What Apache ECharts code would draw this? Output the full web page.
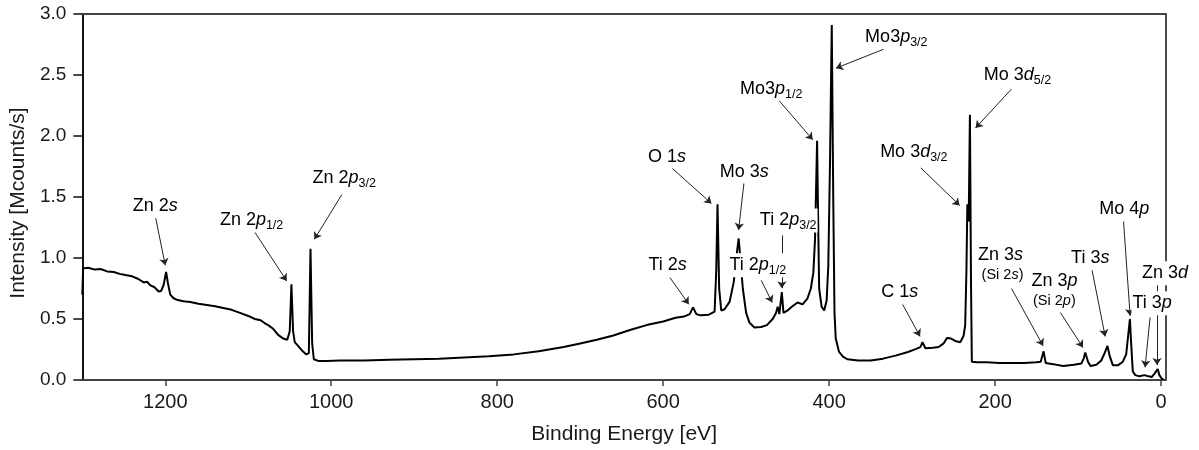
<!DOCTYPE html>
<html>
<head>
<meta charset="utf-8">
<script src="https://cdn.jsdelivr.net/npm/echarts@6/dist/echarts.min.js"></script>
<style>html,body{margin:0;padding:0;background:#fff}#c{width:1199px;height:450px}</style>
</head>
<body>
<div id="c"></div>
<script>
// Binding energy (eV) and intensity (Mcounts/s)
var energy = [1300,1299,1293,1285,1278,1270,1262,1255,1248,1240,1233,1226,1222,1218,1213,1208,1205,1202,1199,1197,1194,1190,1185,1178,1170,1160,1150,1140,1130,1120,1110,1100,1092,1085,1080,1076,1070,1064,1058,1053,1050,1048,1046,1044,1040,1035,1030,1027,1025,1023,1021,1015,1005,
990,960,930,900,870,840,810,780,750,720,700,680,660,640,620,600,585,575,568,564,560,555,545,538,536,534.5,532.5,530,526,520,515,511,509,507,504,500,496,490,482,475,468,464,462,460,457,455,450,445,438,432,426,422,419,417,414.5,413,412,409,406,403,401,399,396.8,395,393.5,392,388,383,378,365,350,335,320,305,295,290,287.5,284,275,268,262,258,253,248,242,238,236,234.5,233.4,231.8,230.3,229,228,222,210,195,180,165,150,145,141.5,139,130,118,105,96,93,91.3,88,85,78,72,68,64.5,62,58,52,46,42,37.5,36,34,31,26,20,18,15,11,8,4,2,-1,-3];
var intensity = [0.70,0.915,0.92,0.905,0.91,0.89,0.885,0.87,0.86,0.85,0.83,0.80,0.805,0.775,0.76,0.725,0.73,0.78,0.885,0.80,0.70,0.67,0.655,0.645,0.64,0.625,0.615,0.605,0.59,0.575,0.55,0.525,0.50,0.49,0.465,0.45,0.42,0.37,0.34,0.33,0.40,0.785,0.40,0.31,0.28,0.24,0.21,0.22,1.075,0.30,0.17,0.155,0.155,
0.16,0.16,0.165,0.17,0.175,0.185,0.195,0.21,0.235,0.27,0.30,0.33,0.365,0.41,0.45,0.48,0.51,0.52,0.54,0.595,0.54,0.53,0.535,0.56,0.90,1.44,0.75,0.57,0.58,0.64,0.80,1.05,1.16,1.0,0.75,0.55,0.47,0.43,0.435,0.45,0.50,0.55,0.60,0.54,0.72,0.55,0.57,0.60,0.635,0.62,0.67,0.75,0.88,1.15,1.96,1.2,0.75,0.60,0.57,0.65,0.93,1.75,2.91,1.48,0.55,0.34,0.23,0.19,0.17,0.16,0.16,0.175,0.20,0.23,0.255,0.27,0.31,0.26,0.265,0.27,0.30,0.345,0.34,0.32,0.31,0.36,0.45,0.9,1.44,1.3,2.175,0.8,0.15,0.145,0.145,0.14,0.14,0.14,0.145,0.15,0.235,0.14,0.13,0.115,0.125,0.135,0.18,0.225,0.15,0.115,0.125,0.16,0.22,0.28,0.20,0.12,0.12,0.15,0.21,0.50,0.30,0.07,0.04,0.03,0.04,0.05,0.03,0.025,0.05,0.09,0.04,0.01,0.005];

// tick labels
var xTicks = [0,200,400,600,800,1000,1200];
var yTicks = [0,0.5,1.0,1.5,2.0,2.5,3.0];

// peak annotations: text and anchor in data coordinates
var annText = [
  'Zn 2{i|s}','Zn 2{i|p}{s|1/2}','Zn 2{i|p}{s|3/2}','Ti 2{i|s}','O 1{i|s}','Mo 3{i|s}',
  'Ti 2{i|p}{s|1/2}','Ti 2{i|p}{s|3/2}','Mo3{i|p}{s|1/2}','Mo3{i|p}{s|3/2}','Mo 3{i|d}{s|5/2}','Mo 3{i|d}{s|3/2}',
  'C 1{i|s}','Zn 3{i|s}','{sm|(Si 2}{smi|s}{sm|)}','Zn 3{i|p}','{sm|(Si 2}{smi|p}{sm|)}','Ti 3{i|s}','Mo 4{i|p}','Zn 3{i|d}','Ti 3{i|p}'];
var annE = [1212,1096,984.4,594.7,595.5,502.2,486.0,449.3,469.8,319.0,173.0,297.9,314.8,193.4,191.0,128.5,128.5,85.3,44.4,-4.8,10.8];
var annI = [1.425,1.308,1.659,0.940,1.831,1.708,0.940,1.308,2.387,2.812,2.501,1.872,0.719,1.022,0.858,0.809,0.646,0.997,1.398,0.875,0.629];

// arrows from label to peak (data coordinates)
var arrowE0 = [1212,1092.5,987.2,591.9,591.9,502.6,481.8,456.9,460.2,334.4,180.2,289.5,311.5,180.2,121.3,83.3,45.2,4.8,13.2];
var arrowI0 = [1.341,1.216,1.52,0.840,1.752,1.616,0.817,1.185,2.289,2.711,2.385,1.739,0.621,0.750,0.553,0.907,1.302,0.793,0.513];
var arrowE1 = [1200,1053.7,1020.4,569.1,541.8,509.1,468.6,456.9,419.7,391.7,223.5,242.7,290.4,142.1,94.1,67.3,37.2,4.8,19.2];
var arrowI1 = [0.94,0.812,1.153,0.621,1.447,1.229,0.635,0.752,1.970,2.556,2.066,1.431,0.357,0.280,0.267,0.357,0.526,0.123,0.104];

var FONT = '"Liberation Sans", Arial, Helvetica, sans-serif';
var TXT = '#000';
var spectrum = energy.map(function(e,i){return [e,intensity[i]];});
var annData = annText.map(function(t,i){return {value:[annE[i],annI[i]], txt:t};});
var arrows = arrowE0.map(function(e,i){return {coords:[[e,arrowI0[i]],[arrowE1[i],arrowI1[i]]]};});

var chart = echarts.init(document.getElementById('c'), null, {renderer:'canvas'});
chart.setOption({
  animation:false,
  backgroundColor:'#fff',
  grid:{left:79,right:33,top:14,bottom:69,containLabel:false},
  xAxis:[{
    type:'value', min:-6, max:1300, inverse:true, position:'bottom',
    name:'Binding Energy [eV]', nameLocation:'middle', nameGap:44,
    nameTextStyle:{fontFamily:FONT,fontSize:21,color:'#1a1a1a'},
    axisLine:{show:true,onZero:false,lineStyle:{color:'#444',width:2}},
    axisTick:{show:true,length:6,customValues:xTicks,lineStyle:{color:'#444',width:1.5}},
    axisLabel:{show:true,customValues:xTicks,margin:12,fontFamily:FONT,fontSize:20,color:'#1a1a1a',
      formatter:function(v){return String(v);}},
    splitLine:{show:false}
  },{
    type:'value', min:-6, max:1300, inverse:true, position:'top',
    axisLine:{show:true,onZero:false,lineStyle:{color:'#444',width:2}},
    axisTick:{show:false}, axisLabel:{show:false}, splitLine:{show:false}
  }],
  yAxis:[{
    type:'value', min:0, max:3, interval:0.5, position:'left',
    name:'Intensity [Mcounts/s]', nameLocation:'middle', nameGap:46,
    nameTextStyle:{fontFamily:FONT,fontSize:21,color:'#1a1a1a',padding:[0,12,0,0]},
    axisLine:{show:true,onZero:false,lineStyle:{color:'#111',width:2}},
    axisTick:{show:true,length:9,lineStyle:{color:'#111',width:1.5}},
    axisLabel:{show:true,margin:16,fontFamily:FONT,fontSize:19,color:'#1a1a1a',
      formatter:function(v){return v.toFixed(1);}},
    splitLine:{show:false}
  },{
    type:'value', min:0, max:3, position:'right',
    axisLine:{show:true,onZero:false,lineStyle:{color:'#111',width:1.5}},
    axisTick:{show:false}, axisLabel:{show:false}, splitLine:{show:false}
  }],
  series:[{
    type:'line', data:spectrum, showSymbol:false, symbol:'none',
    lineStyle:{color:'#000',width:2}, z:2, clip:true
  },{
    type:'lines', coordinateSystem:'cartesian2d', xAxisIndex:0, yAxisIndex:0,
    data:arrows, symbol:['none','arrow'], symbolSize:7,
    lineStyle:{color:'#222',width:1,opacity:1,curveness:0}, z:3, silent:true
  },{
    type:'scatter', data:annData, symbolSize:1, itemStyle:{color:'#fff',opacity:1}, z:5, silent:true,
    label:{
      show:true, position:[0.5,0.5], align:'center', verticalAlign:'middle',
      fontFamily:FONT, fontSize:18, color:TXT, lineHeight:24, opacity:1,
      textBorderWidth:0, backgroundColor:'#fff', padding:[0,1],
      formatter:function(p){return p.data.txt;},
      rich:{
        i:{fontFamily:FONT,fontSize:18,fontStyle:'italic',color:TXT,lineHeight:24},
        s:{fontFamily:FONT,fontSize:12.5,color:TXT,lineHeight:12,verticalAlign:'bottom'},
        sm:{fontFamily:FONT,fontSize:14.5,color:TXT,lineHeight:18},
        smi:{fontFamily:FONT,fontSize:14.5,fontStyle:'italic',color:TXT,lineHeight:18}
      }
    }
  }]
});
</script>
</body>
</html>
